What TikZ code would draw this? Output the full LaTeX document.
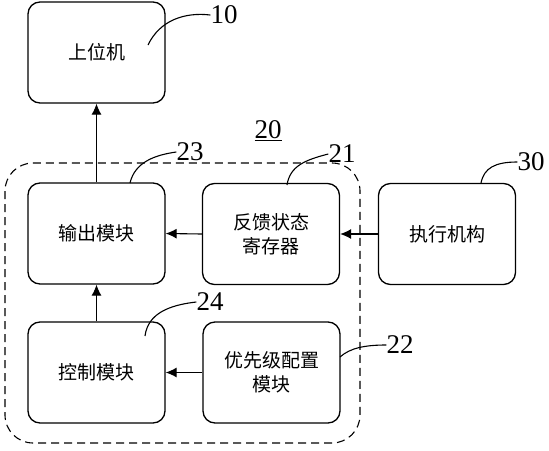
\documentclass[tikz,border=0pt]{standalone}
\usepackage{fontspec}
\setmainfont{Liberation Serif}
\newfontfamily\cjk{Noto Sans CJK SC}[Scale=1]
\usetikzlibrary{arrows.meta}
\begin{document}
\begin{tikzpicture}[x=1pt,y=-1pt,
  blk/.style={draw,line width=1.3pt,rounded corners=12pt,minimum width=137pt,minimum height=101pt,inner sep=0pt,font=\cjk\fontsize{19}{24}\selectfont,align=center},
  arr/.style={line width=1.1pt,-{Latex[length=11pt,width=10pt]}},
  lead/.style={line width=1.1pt},
  num/.style={font=\fontsize{27}{27}\selectfont,inner sep=0pt}]
\useasboundingbox (0,0) rectangle (549,450);
\node[blk] (pc) at (96.5,52.5) {上位机};
\node[blk] (out) at (96.5,233.5) {输出模块};
\node[blk] (fb) at (271,234) {反馈状态\\寄存器};
\node[blk] (act) at (447,234) {执行机构};
\node[blk] (ctl) at (96.5,372.5) {控制模块};
\node[blk] (pri) at (271.5,372.5) {优先级配置\\模块};
\draw[dashed,line width=1.1pt,dash pattern=on 8pt off 5pt,rounded corners=28pt] (5,163) rectangle (360,443);
\draw[arr] (out.north) -- (pc.south);
\draw[arr] (ctl.north) -- (out.south);
\draw[arr] (fb.west) -- (out.east);
\draw[arr] (act.west) -- (fb.east);
\draw[arr] (pri.west) -- (ctl.east);
% labels
\node[num] (l10) at (224,15) {10};
\node[num] (l20) at (268,131) {\underline{20}};
\node[num] (l23) at (190,152) {23};
\node[num] (l21) at (342,154) {21};
\node[num] (l30) at (531,162) {30};
\node[num] (l24) at (210,302) {24};
\node[num] (l22) at (400,345) {22};
\coordinate (c10) at (148,45);
\coordinate (c23) at (130,183);
\coordinate (c21) at (287,185);
\coordinate (c30) at (481,183);
\coordinate (c24) at (145,336);
\coordinate (c22) at (340,357);
\draw[lead] (c10) .. controls (160,20) and (185,12) .. (l10.west);
\draw[lead] (c23) .. controls (135,162) and (155,155) .. (l23.west);
\draw[lead] (c21) .. controls (290,166) and (305,160) .. (l21.west);
\draw[lead] (c30) .. controls (484,168) and (495,162) .. (l30.west);
\draw[lead] (c24) .. controls (148,313) and (170,305) .. (l24.west);
\draw[lead] (c22) .. controls (350,348) and (365,345) .. (l22.west);
\end{tikzpicture}
\end{document}
